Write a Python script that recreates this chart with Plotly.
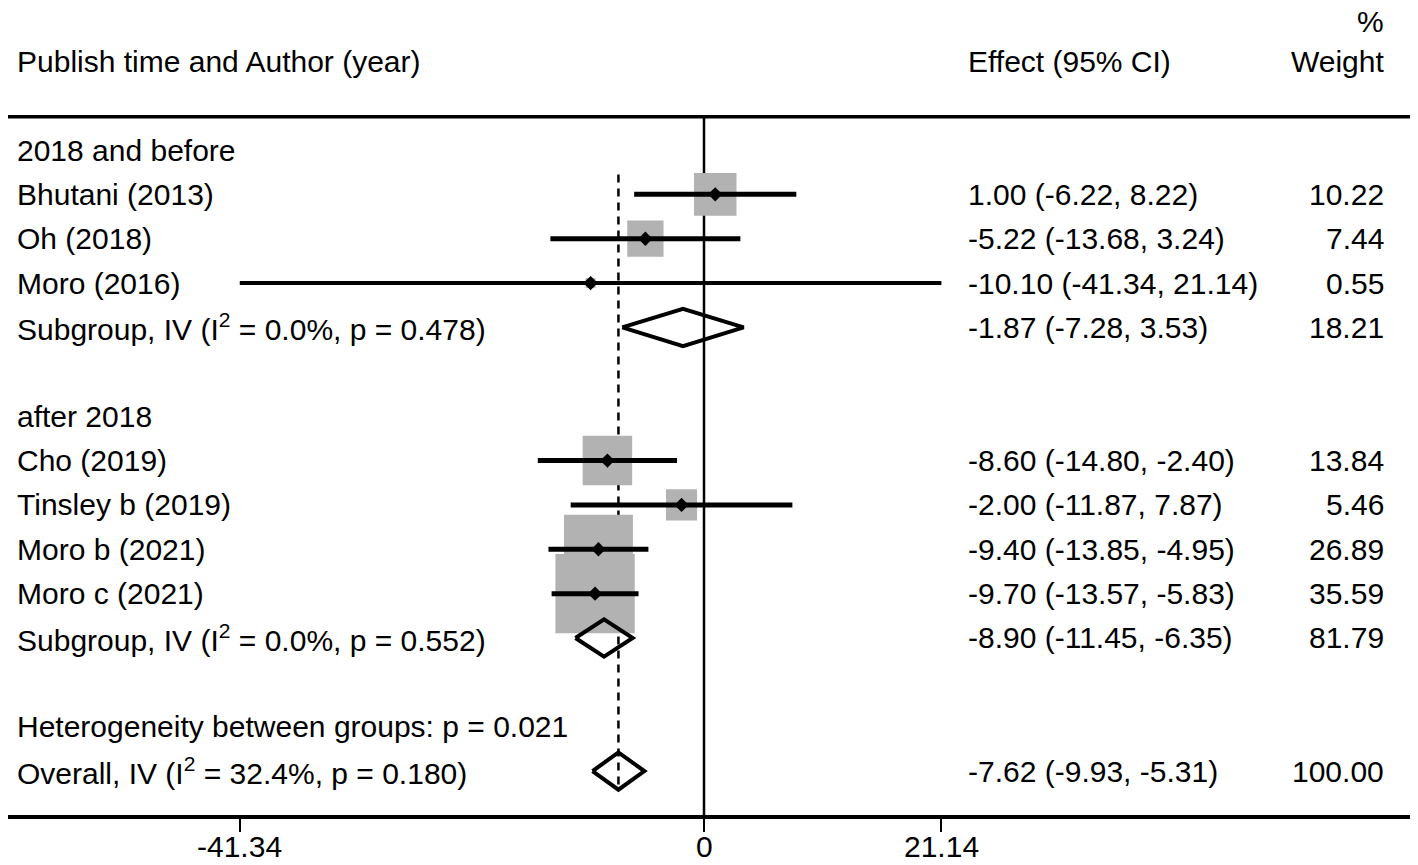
import plotly.graph_objects as go

# Datos del forest plot
labels = ["2018 and before", "Bhutani (2013)", "Oh (2018)", "Moro (2016)",
          "Subgroup, IV (I<sup>2</sup> = 0.0%, p = 0.478)", "",
          "after 2018", "Cho (2019)", "Tinsley b (2019)", "Moro b (2021)", "Moro c (2021)",
          "Subgroup, IV (I<sup>2</sup> = 0.0%, p = 0.552)", "",
          "Heterogeneity between groups: p = 0.021",
          "Overall, IV (I<sup>2</sup> = 32.4%, p = 0.180)"]

study_rows = [1, 2, 3, 7, 8, 9, 10]
study_est = [1.00, -5.22, -10.10, -8.60, -2.00, -9.40, -9.70]
study_lo = [-6.22, -13.68, -41.34, -14.80, -11.87, -13.85, -13.57]
study_hi = [8.22, 3.24, 21.14, -2.40, 7.87, -4.95, -5.83]
study_w = [10.22, 7.44, 0.55, 13.84, 5.46, 26.89, 35.59]

pool_rows = [4, 11, 14]
pool_est = [-1.87, -8.90, -7.62]
pool_lo = [-7.28, -11.45, -9.93]
pool_hi = [3.53, -6.35, -5.31]
pool_w = [18.21, 81.79, 100.00]

tick_vals = [-41.34, 0, 21.14]
tick_text = ["-41.34", "0", "21.14"]

# la pagina deja 8px de margen, la figura ocupa el resto de la ventana
W, H = 1410, 857
PLOT_H = 807
FONT = "Liberation Sans, Arial, sans-serif"
FS = 30
GRAY = "#b2b2b2"
PX_UNIT = 11.23

fig = go.Figure()

# Cajas grises (area proporcional al peso)
fig.add_trace(go.Scatter(
    x=study_est, y=study_rows, mode="markers",
    marker=dict(symbol="square", color=GRAY, opacity=1,
                size=[13.3 * w ** 0.5 for w in study_w], line=dict(width=0)),
    hoverinfo="skip", showlegend=False
))

# Intervalos de confianza
for r, lo, hi in zip(study_rows, study_lo, study_hi):
    fig.add_trace(go.Scatter(
        x=[lo, hi], y=[r, r], mode="lines",
        line=dict(color="black", width=4 if hi - lo > 40 else 5),
        hoverinfo="skip", showlegend=False
    ))

# Estimaciones puntuales
fig.add_trace(go.Scatter(
    x=study_est, y=study_rows, mode="markers",
    marker=dict(symbol="diamond", color="black", size=11, opacity=1),
    hoverinfo="skip", showlegend=False
))

# Diamantes de estimaciones agrupadas
for r, est, lo, hi in zip(pool_rows, pool_est, pool_lo, pool_hi):
    h = 0.42
    fig.add_trace(go.Scatter(
        x=[lo, est, hi, est, lo], y=[r, r - h, r, r + h, r], mode="lines",
        line=dict(color="black", width=4),
        hoverinfo="skip", showlegend=False
    ))

# Lineas de referencia
fig.add_shape(type="line", x0=0, x1=0, y0=-0.75, y1=15, xref="x", yref="y",
              line=dict(color="black", width=2.5), layer="below")
fig.add_shape(type="line", x0=pool_est[-1], x1=pool_est[-1], y0=0.55, y1=14.45,
              xref="x", yref="y", line=dict(color="black", width=2.5, dash="8px,6px"),
              layer="below")
fig.add_shape(type="line", x0=0, x1=1, y0=-0.75, y1=-0.75, xref="paper", yref="y",
              line=dict(color="black", width=3.5))

# Textos
def txt(x, y, s, anchor="left"):
    fig.add_annotation(x=x / W, y=y, xref="paper", yref="y", text=s, showarrow=False,
                       xanchor=anchor, yanchor="middle",
                       font=dict(family=FONT, size=FS, color="black"))

txt(7, -2, "Publish time and Author (year)")
txt(958, -2, "Effect (95% CI)")
txt(1378, -2, "Weight", "right")
txt(1378, -2.9, "%", "right")

for i, s in enumerate(labels):
    if s:
        txt(7, i, s)

for r, est, lo, hi, w in zip(study_rows + pool_rows, study_est + pool_est,
                             study_lo + pool_lo, study_hi + pool_hi, study_w + pool_w):
    txt(958, r, f"{est:.2f} ({lo:.2f}, {hi:.2f})")
    txt(1378, r, f"{w:.2f}", "right")

# etiquetas del eje, algo mas arriba que las de plotly
for v, t in zip(tick_vals, tick_text):
    fig.add_annotation(x=v, y=(PLOT_H - 838) / PLOT_H, xref="x", yref="paper", text=t,
                       showarrow=False, xanchor="center", yanchor="middle",
                       font=dict(family=FONT, size=FS, color="black"))

x0 = -696 / PX_UNIT
fig.update_xaxes(
    range=[x0, x0 + W / PX_UNIT], showgrid=False, zeroline=False,
    showline=True, linecolor="black", linewidth=3.5,
    ticks="outside", ticklen=13, tickwidth=2, tickcolor="black",
    tickvals=tick_vals, showticklabels=False, automargin=False
)
fig.update_yaxes(range=[14.99, -3.201], visible=False, automargin=False)

fig.update_layout(
    width=W, height=H, margin=dict(l=0, r=0, t=0, b=H - PLOT_H),
    plot_bgcolor="white", paper_bgcolor="white", showlegend=False
)

fig.write_html("out.html")
